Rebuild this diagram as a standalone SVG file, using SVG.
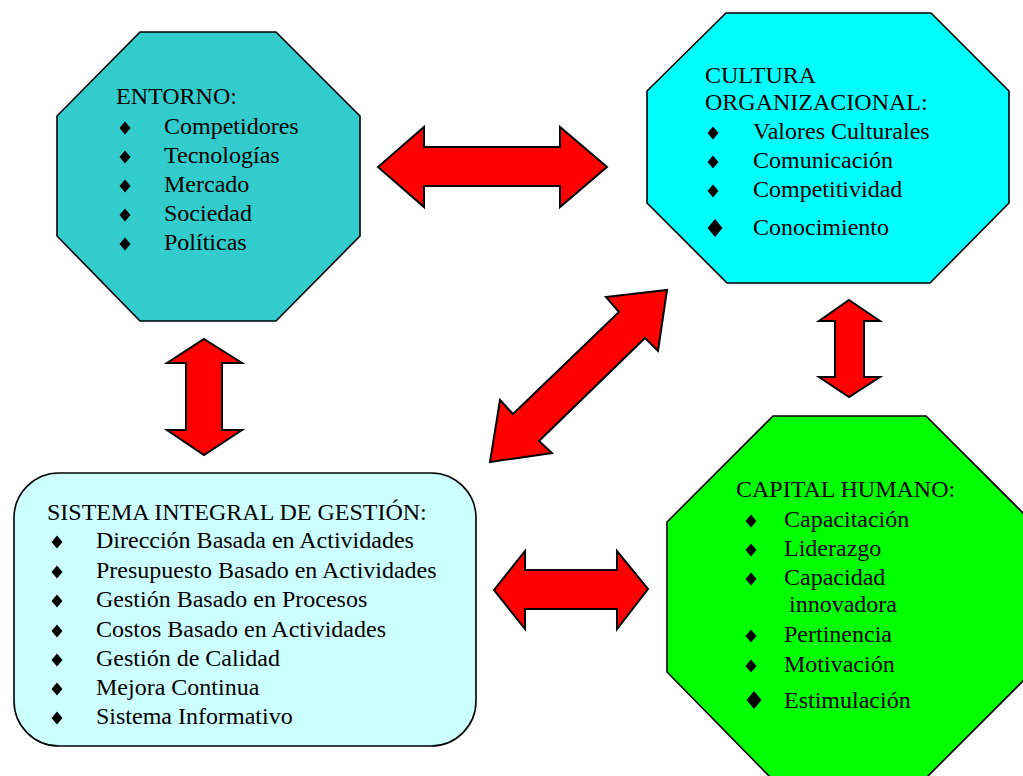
<svg xmlns="http://www.w3.org/2000/svg" xmlns:xlink="http://www.w3.org/1999/xlink" width="1023" height="776" viewBox="0 0 1023 776">
  <style>
    .lbl { font-family: "Liberation Serif", "Times New Roman", serif; font-size: 24px; fill: #000; }
    .shape { stroke: #000; stroke-width: 1.6; stroke-linejoin: miter; }
    .arrow { fill: #FF0000; stroke: #000; stroke-width: 2; stroke-linejoin: miter; }
  </style>
  <defs>
    <path id="dot" d="M0,-6.5 L5.5,0 L0,6.5 L-5.5,0 Z" fill="#000"/>
    <path id="dotL" d="M0,-9 L7.5,0 L0,9 L-7.5,0 Z" fill="#000"/>
  </defs>
  <rect width="1023" height="776" fill="#fff"/>

  <!-- two-way arrows between the four blocks -->
  <g id="connectors">
    <polygon class="arrow" points="378,167 424,127 424,147 560,147 560,127 607,167 560,207 560,186 424,186 424,207"/>
    <polygon class="arrow" points="494,590 525,551 525,570 617,570 617,551 648,589 617,629 617,609 525,609 525,629"/>
    <polygon class="arrow" points="204,339 242,363 222,363 222,430 242,430 204,455 167,430 186,430 186,363 167,363"/>
    <polygon class="arrow" points="849,300 880,321 864,321 864,377 880,377 849,397 819,377 835,377 835,321 819,321"/>
    <polygon class="arrow" points="667,290 658,351 645,338 539,441 552,453 490,462 500,400 513,414 619,312 606,297"/>
  </g>

  <g id="entorno">
    <polygon class="shape" fill="#33CCCC" points="140,32 276,32 360,116 360,236 276,321 140,321 57,236 57,116"/>
    <text class="lbl" x="116" y="104">ENTORNO:</text>
    <use xlink:href="#dot" x="125" y="128"/>
    <text class="lbl" x="164" y="134">Competidores</text>
    <use xlink:href="#dot" x="125" y="157"/>
    <text class="lbl" x="164" y="163">Tecnologías</text>
    <use xlink:href="#dot" x="125" y="186"/>
    <text class="lbl" x="164" y="192">Mercado</text>
    <use xlink:href="#dot" x="125" y="215"/>
    <text class="lbl" x="164" y="221">Sociedad</text>
    <use xlink:href="#dot" x="125" y="244"/>
    <text class="lbl" x="164" y="250">Políticas</text>
  </g>

  <g id="cultura">
    <polygon class="shape" fill="#00FFFF" points="726,13 931,13 1009,91 1009,203 930,283 727,283 647,203 647,91"/>
    <text class="lbl" x="705" y="83">CULTURA</text>
    <text class="lbl" x="705" y="110">ORGANIZACIONAL:</text>
    <use xlink:href="#dot" x="713" y="133"/>
    <text class="lbl" x="753" y="139">Valores Culturales</text>
    <use xlink:href="#dot" x="713" y="162"/>
    <text class="lbl" x="753" y="168">Comunicación</text>
    <use xlink:href="#dot" x="713" y="191"/>
    <text class="lbl" x="753" y="197">Competitividad</text>
    <use xlink:href="#dotL" x="715" y="228"/>
    <text class="lbl" x="753" y="235">Conocimiento</text>
  </g>

  <g id="capital-humano">
    <polygon class="shape" fill="#00FF00" points="773,416 926,416 1032,522 1032,672 926,778 771,778 667,672 667,522"/>
    <text class="lbl" x="736" y="497">CAPITAL HUMANO:</text>
    <use xlink:href="#dot" x="751" y="521"/>
    <text class="lbl" x="784" y="527">Capacitación</text>
    <use xlink:href="#dot" x="751" y="550"/>
    <text class="lbl" x="784" y="556">Liderazgo</text>
    <use xlink:href="#dot" x="751" y="579"/>
    <text class="lbl" x="784" y="585">Capacidad</text>
    <text class="lbl" x="789" y="612">innovadora</text>
    <use xlink:href="#dot" x="751" y="636"/>
    <text class="lbl" x="784" y="642">Pertinencia</text>
    <use xlink:href="#dot" x="751" y="666"/>
    <text class="lbl" x="784" y="672">Motivación</text>
    <use xlink:href="#dotL" x="754" y="700"/>
    <text class="lbl" x="784" y="708">Estimulación</text>
  </g>

  <g id="sistema-integral">
    <rect class="shape" fill="#CCFFFF" x="14" y="473" width="462" height="273" rx="45" ry="45"/>
    <text class="lbl" x="47" y="520">SISTEMA INTEGRAL DE GESTIÓN:</text>
    <use xlink:href="#dot" x="57" y="542"/>
    <text class="lbl" x="96" y="548">Dirección Basada en Actividades</text>
    <use xlink:href="#dot" x="57" y="572"/>
    <text class="lbl" x="96" y="578">Presupuesto Basado en Actividades</text>
    <use xlink:href="#dot" x="57" y="601"/>
    <text class="lbl" x="96" y="607">Gestión Basado en Procesos</text>
    <use xlink:href="#dot" x="57" y="631"/>
    <text class="lbl" x="96" y="637">Costos Basado en Actividades</text>
    <use xlink:href="#dot" x="57" y="660"/>
    <text class="lbl" x="96" y="666">Gestión de Calidad</text>
    <use xlink:href="#dot" x="57" y="689"/>
    <text class="lbl" x="96" y="695">Mejora Continua</text>
    <use xlink:href="#dot" x="57" y="718"/>
    <text class="lbl" x="96" y="724">Sistema Informativo</text>
  </g>
</svg>
